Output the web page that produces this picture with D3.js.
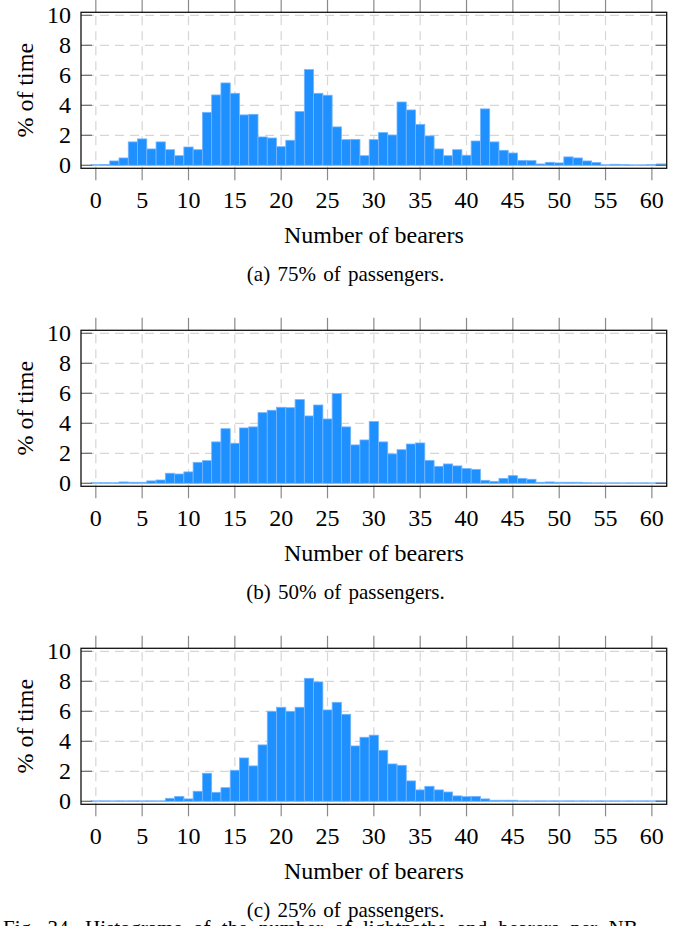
<!DOCTYPE html>
<html>
<head>
<meta charset="utf-8">
<script src="https://cdn.jsdelivr.net/npm/d3@7"></script>
<style>
  html, body { margin: 0; padding: 0; background: #fff; }
  svg { display: block; }
</style>
</head>
<body>
<script>
// ---------- DATA ----------
const bins = d3.range(0, 62); // number of bearers 0..61
const xTicks = [0, 5, 10, 15, 20, 25, 30, 35, 40, 45, 50, 55, 60];
const yTicks = [0, 2, 4, 6, 8, 10];

const pct75 = [0.04, 0.05, 0.29, 0.49, 1.56, 1.76, 1.09, 1.56, 1.04, 0.64,
  1.22, 1.04, 3.53, 4.69, 5.49, 4.80, 3.36, 3.40, 1.89, 1.82,
  1.24, 1.67, 3.58, 6.38, 4.80, 4.67, 2.56, 1.71, 1.73, 0.64,
  1.71, 2.18, 2.02, 4.22, 3.69, 2.73, 1.96, 1.09, 0.64, 1.04,
  0.67, 1.62, 3.76, 1.56, 1.00, 0.82, 0.33, 0.31, 0.09, 0.20,
  0.16, 0.56, 0.49, 0.29, 0.18, 0.04, 0.07, 0.05, 0.03, 0.03,
  0.05, 0.09];

const pct50 = [0.04, 0.04, 0.04, 0.09, 0.07, 0.07, 0.16, 0.22, 0.67, 0.62,
  0.76, 1.40, 1.51, 2.76, 3.64, 2.67, 3.69, 3.76, 4.71, 4.87,
  5.07, 5.04, 5.58, 4.49, 5.22, 4.29, 5.98, 3.76, 2.56, 2.89,
  4.12, 2.76, 1.96, 2.24, 2.62, 2.69, 1.53, 1.13, 1.29, 1.16,
  0.98, 0.93, 0.20, 0.13, 0.33, 0.51, 0.33, 0.27, 0.07, 0.09,
  0.07, 0.07, 0.07, 0.04, 0.03, 0.03, 0.03, 0.03, 0.03, 0.03,
  0.03, 0.03];

const pct25 = [0.03, 0.03, 0.03, 0.03, 0.03, 0.03, 0.03, 0.03, 0.20, 0.33,
  0.16, 0.67, 1.87, 0.60, 0.91, 2.07, 2.89, 2.36, 3.76, 6.00,
  6.27, 6.00, 6.27, 8.20, 7.96, 6.09, 6.60, 5.80, 3.69, 4.27,
  4.41, 3.40, 2.49, 2.40, 1.36, 0.76, 1.00, 0.76, 0.62, 0.36,
  0.31, 0.33, 0.16, 0.07, 0.07, 0.07, 0.03, 0.03, 0.03, 0.03,
  0.03, 0.03, 0.03, 0.03, 0.03, 0.03, 0.03, 0.03, 0.03, 0.03,
  0.03, 0.03];

const panels = [
  { values: pct75, caption: "(a) 75% of passengers." },
  { values: pct50, caption: "(b) 50% of passengers." },
  { values: pct25, caption: "(c) 25% of passengers." }
];
const xTitle = "Number of bearers";
const yTitle = "% of time";
const figCaption = "Fig. 34.   Histograms of the number of lightpaths and bearers per NB.";

// ---------- LAYOUT ----------
const W = 691, H = 926;
const serif = "'Liberation Serif', 'DejaVu Serif', serif";
const svg = d3.select("body").append("svg").attr("width", W).attr("height", H);

const left = 81, right = 666.7, plotTop = 12.3, plotH = 156, step = 318;

const x = d3.scaleLinear().domain([-1.6, 61.6]).range([left, right]);

panels.forEach((p, k) => {
  const top = plotTop + k * step;
  const bottom = top + plotH;
  const y = d3.scaleLinear().domain([-0.2, 10.2]).range([bottom, top]);
  const g = svg.append("g");

  // grid
  g.append("g").selectAll("line").data(xTicks).join("line")
    .attr("x1", d => x(d)).attr("x2", d => x(d))
    .attr("y1", top).attr("y2", bottom)
    .attr("stroke", "#d6d6d6").attr("stroke-width", 1.2)
    .attr("stroke-dasharray", "9,6").attr("stroke-dashoffset", -4);
  g.append("g").selectAll("line").data(yTicks).join("line")
    .attr("x1", left).attr("x2", right)
    .attr("y1", d => y(d)).attr("y2", d => y(d))
    .attr("stroke", "#d6d6d6").attr("stroke-width", 1.2)
    .attr("stroke-dasharray", "9,6").attr("stroke-dashoffset", -4);

  // bars
  g.append("g").selectAll("rect").data(bins).join("rect")
    .attr("x", i => x(i - 0.5))
    .attr("width", i => x(i + 0.5) - x(i - 0.5))
    .attr("y", i => y(p.values[i]))
    .attr("height", i => y(0) - y(p.values[i]))
    .attr("fill", "#1e90ff")
    .attr("stroke", "#73b6ff").attr("stroke-width", 0.8);

  // x ticks (outside, top and bottom)
  g.append("g").selectAll("line").data(xTicks).join("line")
    .attr("x1", d => x(d)).attr("x2", d => x(d))
    .attr("y1", bottom).attr("y2", bottom + 12)
    .attr("stroke", "#8a8a8a").attr("stroke-width", 1.2);
  g.append("g").selectAll("line").data(xTicks).join("line")
    .attr("x1", d => x(d)).attr("x2", d => x(d))
    .attr("y1", top).attr("y2", top - 12.5)
    .attr("stroke", "#8a8a8a").attr("stroke-width", 1.2);

  // y ticks (inside, left and right)
  g.append("g").selectAll("line").data(yTicks).join("line")
    .attr("x1", left).attr("x2", left + 11)
    .attr("y1", d => y(d)).attr("y2", d => y(d))
    .attr("stroke", "#6a6a6a").attr("stroke-width", 1.2);
  g.append("g").selectAll("line").data(yTicks).join("line")
    .attr("x1", right).attr("x2", right - 11)
    .attr("y1", d => y(d)).attr("y2", d => y(d))
    .attr("stroke", "#6a6a6a").attr("stroke-width", 1.2);

  // frame
  g.append("rect").attr("x", left).attr("y", top)
    .attr("width", right - left).attr("height", plotH)
    .attr("fill", "none").attr("stroke", "#111").attr("stroke-width", 1.3);

  // tick labels
  g.append("g").selectAll("text").data(xTicks).join("text")
    .attr("x", d => x(d)).attr("y", bottom + 40)
    .attr("text-anchor", "middle")
    .attr("font-family", serif).attr("font-size", 24)
    .text(d => d);
  g.append("g").selectAll("text").data(yTicks).join("text")
    .attr("x", 71).attr("y", d => y(d) + 8)
    .attr("text-anchor", "end")
    .attr("font-family", serif).attr("font-size", 24)
    .text(d => d);

  // axis titles
  g.append("text")
    .attr("x", (left + right) / 2).attr("y", bottom + 75)
    .attr("text-anchor", "middle")
    .attr("font-family", serif).attr("font-size", 24)
    .text(xTitle);
  g.append("text")
    .attr("transform", `translate(33, ${(top + bottom) / 2}) rotate(-90)`)
    .attr("text-anchor", "middle")
    .attr("font-family", serif).attr("font-size", 24)
    .text(yTitle);

  // caption
  g.append("text")
    .attr("x", W / 2).attr("y", bottom + 113)
    .attr("text-anchor", "middle")
    .attr("font-family", serif).attr("font-size", 21)
    .attr("word-spacing", 2)
    .text(p.caption);
});

svg.append("text")
  .attr("x", 3).attr("y", 935)
  .attr("font-family", serif).attr("font-size", 21)
  .attr("word-spacing", 6)
  .text(figCaption);
</script>
</body>
</html>
